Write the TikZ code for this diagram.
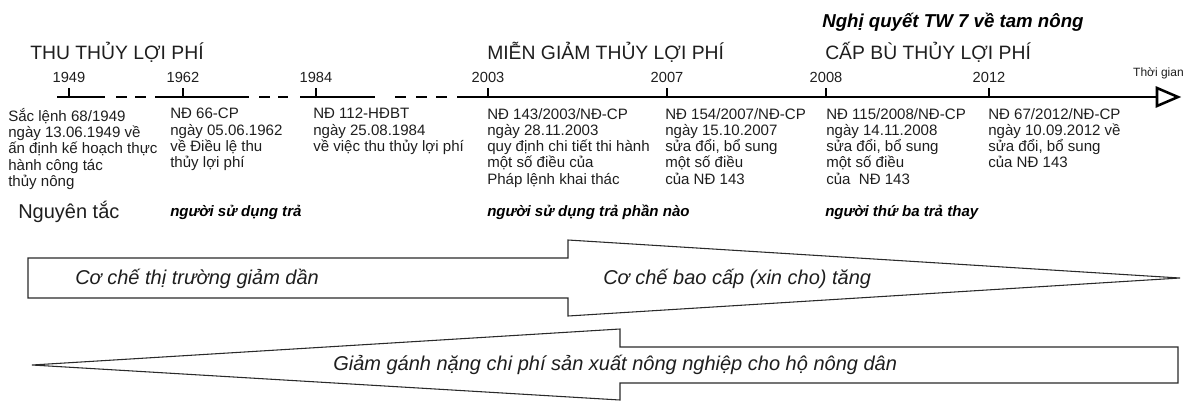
\documentclass[tikz,border=0pt]{standalone}
\usepackage{fontspec}
\setmainfont{Liberation Sans}
\usetikzlibrary{positioning}
\definecolor{Ink}{HTML}{1E1E1E}
\definecolor{Edge}{HTML}{2A2A2A}

\tikzset{
  axis/.style={line width=1.9pt,line cap=butt,draw=black},
  year/.style={inner sep=0pt,text=Ink,font=\fontsize{11}{13}\selectfont},
  phase/.style={anchor=west,inner sep=0pt,text=Ink,font=\fontsize{14.5}{17}\selectfont},
  doc/.style={anchor=north west,align=left,inner sep=0pt,text=Ink,font=\fontsize{11.3}{12.2}\selectfont},
  rule/.style={anchor=west,inner sep=0pt,text=black,font=\fontsize{11.3}{13}\selectfont\bfseries\itshape},
  band/.style={draw=Edge,line width=0.8pt,fill=white,line join=miter},
  bandtext/.style={anchor=west,inner sep=0pt,text=Ink,font=\fontsize{15}{18}\selectfont\itshape}
}

\begin{document}
\begin{tikzpicture}[x=0.75pt,y=-0.75pt]
    \useasboundingbox (0,0) rectangle (1186,401);

    \node[anchor=west,inner sep=0pt,font=\fontsize{14}{17}\selectfont\bfseries\itshape] (tw7) at (822,22) {Nghị quyết TW 7 về tam nông};
    \node[phase] (thu) at (30,52) {THU THỦY LỢI PHÍ};
    \node[phase] (mien) at (487,52) {MIỄN GIẢM THỦY LỢI PHÍ};
    \node[phase] (capbu) at (825,52) {CẤP BÙ THỦY LỢI PHÍ};

    \foreach \a/\b in {57/105,116/127,135/146,155/249,259/270,278/288,300/375,395/406,416/427,436/447,457/1157}
      \draw[axis] (\a,97) -- (\b,97);
    \draw[axis,fill=white,line join=miter] (1157,88) -- (1178,97) -- (1157,106) -- cycle;
    \node[anchor=east,inner sep=0pt,text=Ink,font=\fontsize{9}{11}\selectfont] (tg) at (1184,73) {Thời gian};

    \foreach \yr/\px in {1949/69,1962/183,1984/316,2003/488,2007/667,2008/826,2012/989} {
      \coordinate (t\yr) at (\px,97);
      \draw[axis] (t\yr) -- ++(0,-9) coordinate (k\yr);
      \node[year,above=4pt of k\yr] (y\yr) {\yr};
    }

    \node[doc] (d1949) at (8,108) {Sắc lệnh 68/1949\\ngày 13.06.1949 về\\ấn định kế hoạch thực\\hành công tác\\thủy nông};
    \node[doc] (d1962) at (170,108) {NĐ 66-CP\\ngày 05.06.1962\\về Điều lệ thu\\thủy lợi phí};
    \node[doc] (d1984) at (313,108) {NĐ 112-HĐBT\\ngày 25.08.1984\\về việc thu thủy lợi phí};
    \node[doc] (d2003) at (487,108) {NĐ 143/2003/NĐ-CP\\ngày 28.11.2003\\quy định chi tiết thi hành\\một số điều của\\Pháp lệnh khai thác};
    \node[doc] (d2007) at (665,108) {NĐ 154/2007/NĐ-CP\\ngày 15.10.2007\\sửa đổi, bổ sung\\một số điều\\của NĐ 143};
    \node[doc] (d2008) at (826,108) {NĐ 115/2008/NĐ-CP\\ngày 14.11.2008\\sửa đổi, bổ sung\\một số điều\\của\ \ NĐ 143};
    \node[doc] (d2012) at (988,108) {NĐ 67/2012/NĐ-CP\\ngày 10.09.2012 về\\sửa đổi, bổ sung\\của NĐ 143};

    \node[anchor=west,inner sep=0pt,text=Ink,font=\fontsize{15}{18}\selectfont] (nt) at (18,212) {Nguyên tắc};
    \node[rule] (r1) at (170,212) {người sử dụng trả};
    \node[rule] (r2) at (487,212) {người sử dụng trả phần nào};
    \node[rule] (r3) at (825,212) {người thứ ba trả thay};

    \draw[band] (28,258) -- (568,258) -- (568,240) -- (1180,278) -- (568,316) -- (568,298) -- (28,298) -- cycle;
    \node[bandtext] (thitruong) at (75,279) {Cơ chế thị trường giảm dần};
    \node[bandtext] (baocap) at (603,279) {Cơ chế bao cấp (xin cho) tăng};

    \draw[band] (32,365) -- (620,329) -- (620,347) -- (1178,347) -- (1178,383) -- (620,383) -- (620,400) -- cycle;
    \node[bandtext] (ganhnang) at (333,365) {Giảm gánh nặng chi phí sản xuất nông nghiệp cho hộ nông dân};
  \end{tikzpicture}
\end{document}
